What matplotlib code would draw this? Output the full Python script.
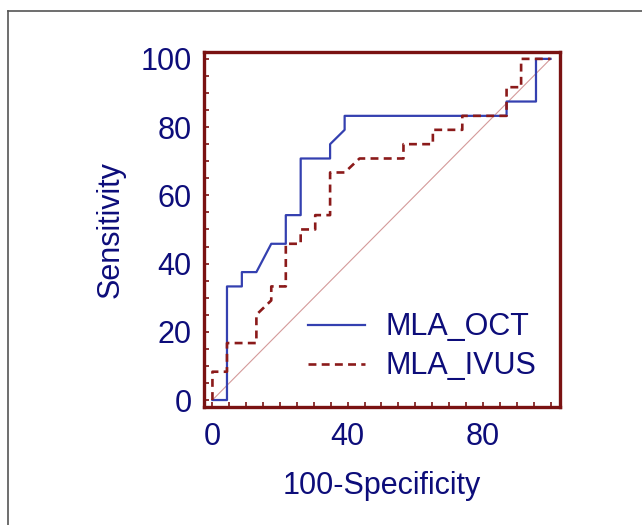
import matplotlib.pyplot as plt
from matplotlib.lines import Line2D
from matplotlib.ticker import MultipleLocator

# ROC step curves (100-specificity, sensitivity)
oct_fpr = [0, 4.3, 4.3, 8.7, 8.7, 13.0, 17.4, 21.7, 21.7, 26.1, 26.1, 34.8,
           34.8, 39.1, 39.1, 87.0, 87.0, 95.7, 95.7, 100]
oct_tpr = [0, 0, 33.3, 33.3, 37.5, 37.5, 45.8, 45.8, 54.2, 54.2, 70.8, 70.8,
           75.0, 79.2, 83.3, 83.3, 87.5, 87.5, 100, 100]

ivus_fpr = [0, 0, 4.3, 4.3, 13.0, 13.0, 17.4, 17.4, 21.7, 21.7, 26.1, 26.1,
            30.4, 30.4, 34.8, 34.8, 39.1, 43.5, 56.5, 56.5, 65.2, 65.2, 73.9,
            73.9, 87.0, 87.0, 91.3, 91.3, 100]
ivus_tpr = [0, 8.3, 8.3, 16.7, 16.7, 25.0, 29.2, 33.3, 33.3, 45.8, 45.8, 50.0,
            50.0, 54.2, 54.2, 66.7, 66.7, 70.8, 70.8, 75.0, 75.0, 79.2, 79.2,
            83.3, 83.3, 91.7, 91.7, 100, 100]

x_ticks = [0, 40, 80]
y_ticks = [0, 20, 40, 60, 80, 100]

navy = '#0d0d7a'
maroon = '#7a1212'

plt.rcParams['font.family'] = ['Liberation Sans', 'DejaVu Sans']

fig = plt.figure(figsize=(6.42, 5.25), dpi=100)
ax = fig.add_axes([0.318, 0.2253, 0.554, 0.6762])

ax.plot([0, 100], [0, 100], color='#d49a9a', lw=0.8)
ax.plot(oct_fpr, oct_tpr, color='#3440b0', lw=1.6, label='MLA_OCT')
ax.plot(ivus_fpr, ivus_tpr, color='#8b1a1a', lw=1.9, ls=(0, (3, 2)), label='MLA_IVUS')

ax.set_xlim(-2.45, 102.75)
ax.set_ylim(-1.96, 102.1)

ax.set_xticks(x_ticks)
ax.set_yticks(y_ticks)
ax.xaxis.set_minor_locator(MultipleLocator(5))
ax.yaxis.set_minor_locator(MultipleLocator(5))
ax.tick_params(which='both', direction='in', length=3.5, width=1.2, color=maroon,
               top=False, right=False)
ax.tick_params(axis='x', labelsize=22, labelcolor=navy, pad=11)
ax.tick_params(axis='y', labelsize=22, labelcolor=navy, pad=9)

for sp in ax.spines.values():
    sp.set_color(maroon)
    sp.set_linewidth(2.4)

ax.set_xlabel('100-Specificity', fontsize=22, color=navy, labelpad=14)
ax.set_ylabel('Sensitivity', fontsize=22, color=navy, labelpad=11)

ax.legend(loc='upper left', bbox_to_anchor=(0.292, 0.266), frameon=False,
          fontsize=22, labelcolor=navy, handlelength=1.85, handletextpad=0.7,
          labelspacing=0.3, borderpad=0, borderaxespad=0)

# grey frame around the panel
fig.add_artist(Line2D([0.0125, 0.0125], [0, 0.98], transform=fig.transFigure,
                      color='#555555', lw=1.2))
fig.add_artist(Line2D([0.0125, 1], [0.98, 0.98], transform=fig.transFigure,
                      color='#555555', lw=1.2))

fig.savefig('out.png', dpi=100)
